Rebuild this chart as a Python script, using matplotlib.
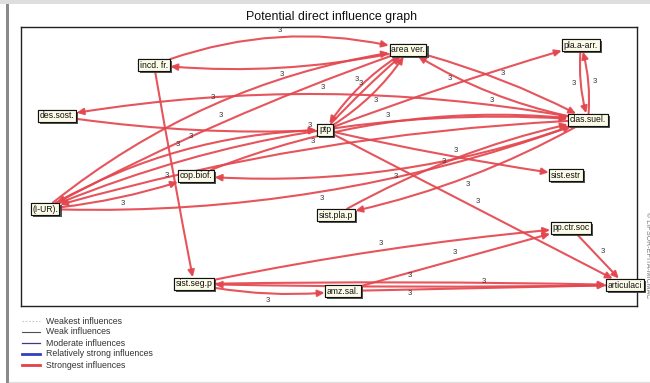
import numpy as np
import matplotlib
matplotlib.use('Agg')
import matplotlib.pyplot as plt
from matplotlib.patches import FancyArrowPatch, Rectangle
from matplotlib.lines import Line2D
import matplotlib.patheffects as pe

# ---------------- data ----------------
title = "Potential direct influence graph"

node_names = ["incd. fr.", "area ver.", "pla.a-arr.", "des.sost.", "ptp", "clas.suel.",
              "cop.biof.", "sist.estr", "(I-UR).", "sist.pla.p", "pp.ctr.soc",
              "sist.seg.p", "amz.sal.", "articulaci"]
# graph layout (map coordinates of the nodes)
node_x = [154, 408, 581, 57, 325, 588, 196, 566, 45, 336, 571, 194, 343, 625]
node_y = [65, 50, 45, 116, 130, 120, 176, 175, 209, 215, 228, 284, 291, 285]

edge_src = ["incd. fr.", "area ver.", "incd. fr.", "clas.suel.", "des.sost.",
            "(I-UR).", "area ver.", "ptp", "area ver.", "ptp",
            "area ver.", "clas.suel.", "ptp", "pla.a-arr.", "clas.suel.",
            "(I-UR).", "clas.suel.", "(I-UR).", "cop.biof.", "clas.suel.",
            "sist.pla.p", "clas.suel.", "ptp", "ptp", "(I-UR).",
            "(I-UR).", "sist.seg.p", "amz.sal.", "pp.ctr.soc", "sist.seg.p",
            "articulaci", "amz.sal.", "sist.seg.p"]
edge_dst = ["area ver.", "incd. fr.", "sist.seg.p", "des.sost.", "ptp",
            "area ver.", "(I-UR).", "area ver.", "ptp", "area ver.",
            "clas.suel.", "area ver.", "pla.a-arr.", "clas.suel.", "pla.a-arr.",
            "clas.suel.", "(I-UR).", "clas.suel.", "clas.suel.", "cop.biof.",
            "clas.suel.", "sist.pla.p", "sist.estr", "articulaci", "ptp",
            "cop.biof.", "pp.ctr.soc", "pp.ctr.soc", "articulaci", "articulaci",
            "sist.seg.p", "articulaci", "amz.sal."]
edge_rad = [-0.16, -0.08, 0.005, 0.09, 0.05,
            -0.14, 0.04, 0.12, 0.12, -0.03,
            -0.06, -0.10, -0.02, 0.10, 0.10,
            -0.12, 0.06, 0.10, -0.13, -0.11,
            -0.08, -0.08, 0.02, 0.0, -0.13,
            0.06, -0.03, 0.0, 0.0, -0.01,
            -0.01, 0.0, 0.08]
edge_value = [3] * len(edge_src)

legend_labels = ["Weakest influences", "Weak influences", "Moderate influences",
                 "Relatively strong influences", "Strongest influences"]
legend_colors = ["#c8c8c8", "#505050", "#3a3a88", "#3040c0", "#e0424a"]
legend_widths = [0.8, 0.8, 0.9, 2.0, 2.0]
legend_styles = [(0, (1.5, 1.5)), "-", "-", "-", "-"]

# ---------------- figure ----------------
W, H, DPI = 650, 383, 100
fig = plt.figure(figsize=(W / DPI, H / DPI), dpi=DPI)
fig.patch.set_facecolor("white")
plt.rcParams['font.family'] = ['Liberation Sans', 'DejaVu Sans']

# outer decorations (frame of the window)
fig.add_artist(Rectangle((0, 1 - 4 / H), 1, 4 / H, transform=fig.transFigure,
                         facecolor="#dedede", edgecolor="none"))
fig.add_artist(Rectangle((6 / W, 0), 3 / W, 1 - 4 / H, transform=fig.transFigure,
                         facecolor="#8a8a8a", edgecolor="none"))
fig.add_artist(Line2D([9 / W, 1], [1.5 / H, 1.5 / H], transform=fig.transFigure,
                      color="#e0e0e0", lw=1))

fig.text(332 / W, 1 - 17 / H, title, ha="center", va="center", fontsize=8.9,
         color="#111111")

x0, x1, y0, y1 = 21, 637, 27, 306
ax = fig.add_axes([x0 / W, 1 - y1 / H, (x1 - x0) / W, (y1 - y0) / H])
ax.set_xlim(x0, x1)
ax.set_ylim(y1, y0)
ax.set_xticks([])
ax.set_yticks([])
for s in ax.spines.values():
    s.set_color("#222222")
    s.set_linewidth(1.0)

pos = {n: (x, y) for n, x, y in zip(node_names, node_x, node_y)}

# nodes
node_txt = {}
for n in node_names:
    x, y = pos[n]
    t = ax.text(x, y, n, ha="center", va="center", fontsize=6.2, color="#111111",
                zorder=5, clip_on=False,
                bbox=dict(boxstyle="square,pad=0.18", facecolor="#fbfbe8",
                          edgecolor="#111111", linewidth=0.8))
    t.get_bbox_patch().set_path_effects(
        [pe.withSimplePatchShadow(offset=(1.5, -1.5), shadow_rgbFace="#444444", alpha=0.9),
         pe.Normal()])
    node_txt[n] = t

fig.canvas.draw()
renderer = fig.canvas.get_renderer()
half = {}
for n, t in node_txt.items():
    e = t.get_bbox_patch().get_window_extent(renderer)
    half[n] = (e.width / 2, e.height / 2)

def border_dist(u, hw, hh):
    ux, uy = abs(u[0]), abs(u[1])
    cands = []
    if ux > 1e-9:
        cands.append(hw / ux)
    if uy > 1e-9:
        cands.append(hh / uy)
    return min(cands)

red = "#e4464e"
px2pt = 72.0 / DPI
for s, d, rad, val in zip(edge_src, edge_dst, edge_rad, edge_value):
    p1 = ax.transData.transform(pos[s])
    p2 = ax.transData.transform(pos[d])
    dv = p2 - p1
    mid = (p1 + p2) / 2
    c = mid + rad * np.array([dv[1], -dv[0]])
    u1 = c - p1
    u1 = u1 / np.linalg.norm(u1)
    u2 = c - p2
    u2 = u2 / np.linalg.norm(u2)
    sA = border_dist(u1, *half[s]) * px2pt + 0.5
    sB = border_dist(u2, *half[d]) * px2pt + 0.5
    arr = FancyArrowPatch(pos[s], pos[d], connectionstyle=f"arc3,rad={rad}",
                          arrowstyle="-|>,head_length=0.5,head_width=0.24",
                          mutation_scale=8, color=red, lw=1.5, shrinkA=sA, shrinkB=sB,
                          zorder=2, alpha=0.92)
    ax.add_patch(arr)
    # label at curve midpoint, pushed outward
    bm = 0.25 * p1 + 0.5 * c + 0.25 * p2
    if abs(rad) > 1e-6:
        nvec = c - mid
    else:
        nvec = np.array([-dv[1], dv[0]])
        if nvec[1] < 0:
            nvec = -nvec
    nvec = nvec / np.linalg.norm(nvec)
    lp = ax.transData.inverted().transform(bm + 7 * nvec)
    ax.text(lp[0], lp[1], str(val), ha="center", va="center", fontsize=5.5,
            color="#333333", zorder=3)

# watermark on the right edge
fig.text(647 / W, 1 - 255 / H, "© LIPSOR-EPITA-MICMAC", rotation=-90, ha="center",
         va="center", fontsize=5, color="#777777")

# legend
ly = [321, 332, 343, 354, 365]
for lab, col, lw, ls, yy in zip(legend_labels, legend_colors, legend_widths,
                                legend_styles, ly):
    fig.add_artist(Line2D([22 / W, 40 / W], [1 - yy / H, 1 - yy / H],
                          transform=fig.transFigure, color=col, lw=lw, linestyle=ls))
    fig.text(46 / W, 1 - yy / H, lab, ha="left", va="center", fontsize=6.3,
             color="#333333")

fig.savefig("out.png", dpi=DPI)
